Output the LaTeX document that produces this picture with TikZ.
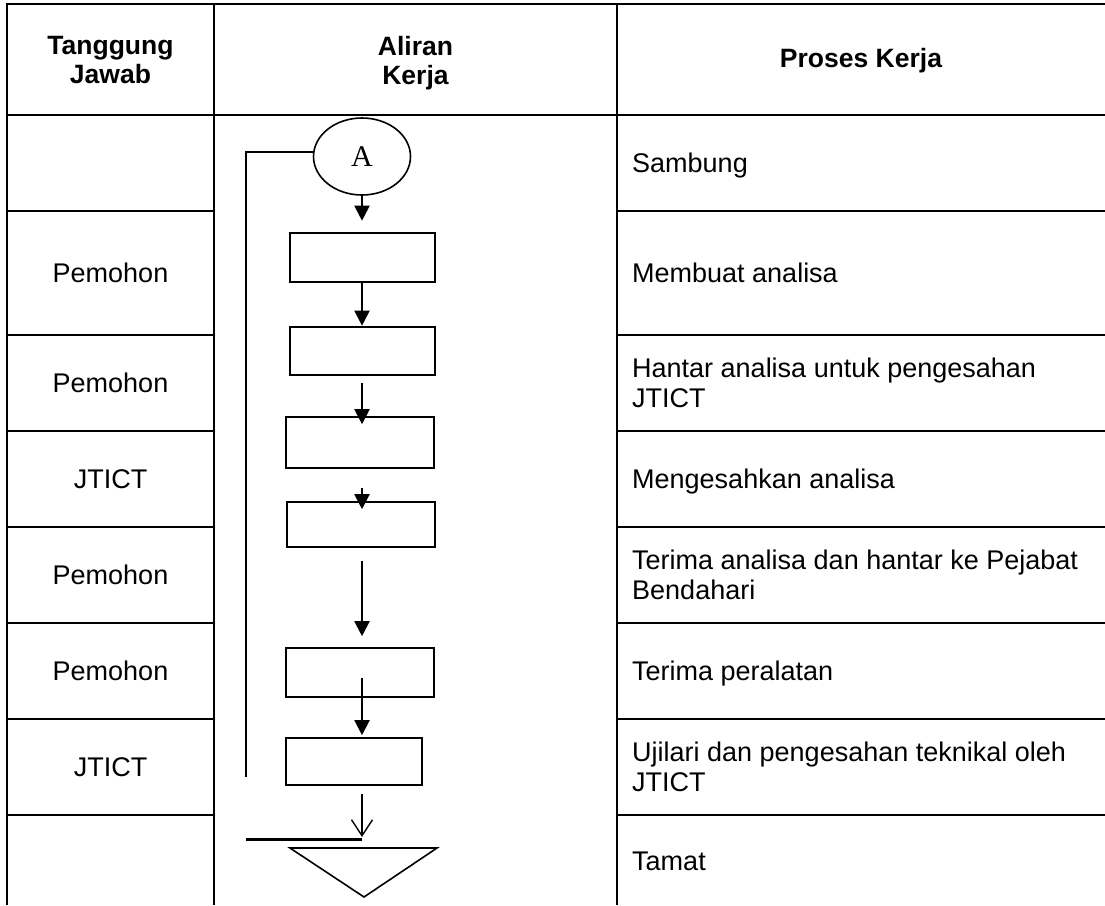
\documentclass[tikz,border=0pt]{standalone}
\usepackage{fontspec}
\setmainfont{Liberation Sans}
\newfontfamily\serifA{Liberation Serif}
\usetikzlibrary{arrows.meta,shapes.geometric,calc}
\begin{document}
\begin{tikzpicture}[x=1pt,y=-1pt,
  grid/.style={line width=2.8pt},
  hdr/.style={font=\fontsize{26.5}{29}\selectfont\bfseries, align=center, text depth=0pt, inner sep=0pt},
  who/.style={font=\fontsize{27}{30}\selectfont, text depth=0pt, inner sep=0pt},
  proc/.style={font=\fontsize{27}{30}\selectfont, anchor=west, align=left, text depth=0pt, inner sep=0pt},
  boxthick/.style={draw, line width=2.6pt, inner sep=0pt},
  boxthin/.style={draw, line width=1.6pt, inner sep=0pt},
  arr/.style={line width=2pt, -{Triangle[length=15pt,width=15pt]}},
  varr/.style={line width=1.4pt, -{Straight Barb[length=16pt,width=21pt,line width=1.4pt]}},
  ln/.style={line width=2.6pt},
]
\useasboundingbox (0,0) rectangle (1105,905);
% table
\draw[grid] (5.6,4) -- (1105,4);
\draw[grid] (7,4) -- (7,905);
\draw[grid] (214,4) -- (214,905);
\draw[grid] (617,4) -- (617,905);
\draw[grid] (7,115) -- (1105,115);
\foreach \y in {211,335,431,527,623,719,815} {
  \draw[grid] (7,\y) -- (214,\y);
  \draw[grid] (617,\y) -- (1105,\y);
}
% headers
\node[hdr] (h1) at (110.5,60) {Tanggung\\Jawab};
\node[hdr] (h2) at (415.5,60) {Aliran\\Kerja};
\node[hdr] (h3) at (861,58) {Proses Kerja};
% responsibilities
\node[who] (w1) at (110.5,273) {Pemohon};
\node[who] (w2) at (110.5,383) {Pemohon};
\node[who] (w3) at (110.5,479) {JTICT};
\node[who] (w4) at (110.5,575) {Pemohon};
\node[who] (w5) at (110.5,671) {Pemohon};
\node[who] (w6) at (110.5,767) {JTICT};
% processes
\node[proc] (p0) at (632,163) {Sambung};
\node[proc] (p1) at (632,273) {Membuat analisa};
\node[proc] (p2) at (632,383) {Hantar analisa untuk pengesahan\\JTICT};
\node[proc] (p3) at (632,479) {Mengesahkan analisa};
\node[proc] (p4) at (632,575) {Terima analisa dan hantar ke Pejabat\\Bendahari};
\node[proc] (p5) at (632,671) {Terima peralatan};
\node[proc] (p6) at (632,767) {Ujilari dan pengesahan teknikal oleh\\JTICT};
\node[proc] (p7) at (632,861) {Tamat};
% flowchart
\coordinate (sp) at (362,0);
\node[draw, ellipse, line width=1.6pt, minimum width=97pt, minimum height=77pt, inner sep=0pt,
      font=\serifA\fontsize{30}{30}\selectfont] (A) at (362,156.5) {A};
\node[boxthick, minimum width=145pt, minimum height=49pt] (b1) at (362.5,257.5) {};
\node[boxthick, minimum width=145pt, minimum height=48pt] (b2) at (362.5,351) {};
\node[boxthin, minimum width=148pt, minimum height=51pt] (b3) at (360,442.5) {};
\node[boxthin, minimum width=148pt, minimum height=45pt] (b4) at (361,524.5) {};
\node[boxthin, minimum width=148pt, minimum height=49pt] (b5) at (360,672.5) {};
\node[boxthin, minimum width=136pt, minimum height=47pt] (b6) at (354,761.5) {};
\coordinate (t1) at (290,848);
\coordinate (t2) at (437,848);
\coordinate (t3) at (364,897);
\draw[line width=1.6pt, line join=miter] (t1) -- (t2) -- (t3) -- cycle;
\coordinate (lt) at (246,152);
\coordinate (lb) at (246,777);
\coordinate (hl) at (246,839);
\coordinate (hr) at (362,839);
\draw[ln] (A.west |- lt) -- (lt) -- (lb);
\draw[line width=3pt] (hl) -- (hr);
\draw[arr] (A.south) -- ($(sp |- b1.north)+(0,-11)$);
\draw[arr] (sp |- b1.south) -- (sp |- b2.north);
\draw[arr] ($(sp |- b2.south)+(0,7)$) -- ($(sp |- b3.north)+(0,8)$);
\draw[arr] ($(sp |- b3.south)+(0,19)$) -- ($(sp |- b4.north)+(0,8)$);
\draw[arr] ($(sp |- b4.south)+(0,13)$) -- ($(sp |- b5.north)+(0,-11)$);
\draw[arr] ($(sp |- b5.south)+(0,-20)$) -- ($(sp |- b6.north)+(0,-2)$);
\draw[varr] ($(sp |- b6.south)+(0,8)$) -- ($(hr)+(0,-2)$);
\end{tikzpicture}
\end{document}
